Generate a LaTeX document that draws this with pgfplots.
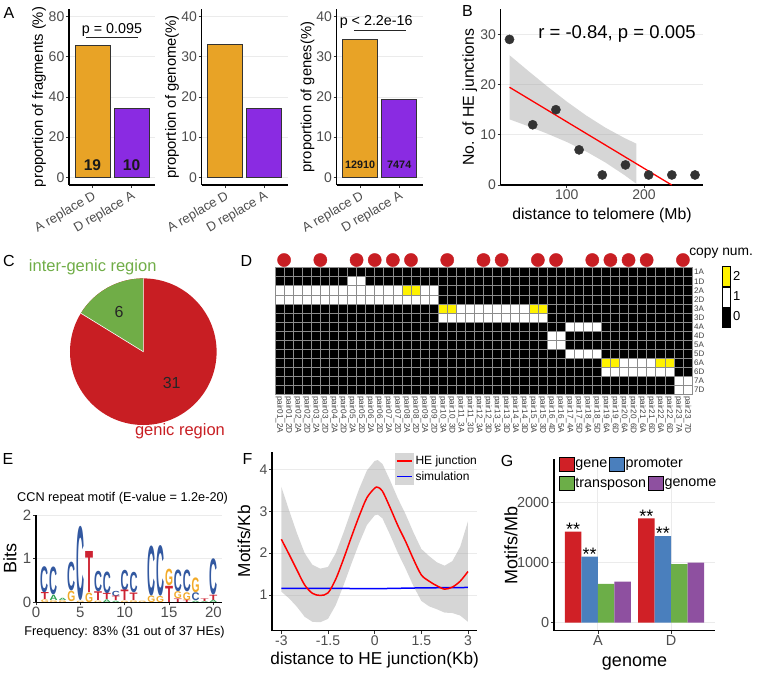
\documentclass[border=0pt]{standalone}
\usepackage{pgfplots}
\pgfplotsset{compat=1.18}
\usepackage{graphicx}
\usepackage{fontspec}
\setmainfont{Liberation Sans}
\newcommand{\fs}[1]{\fontsize{#1pt}{#1pt}\selectfont}

\definecolor{aorange}{RGB}{232,163,38}
\definecolor{apurple}{RGB}{138,43,226}
\definecolor{barline}{RGB}{51,51,51}
\definecolor{gridc}{RGB}{235,235,235}
\definecolor{tickc}{RGB}{77,77,77}
\definecolor{piered}{RGB}{200,30,35}
\definecolor{piegreen}{RGB}{112,173,71}
\definecolor{dotred}{RGB}{200,30,35}
\definecolor{bandc}{RGB}{153,153,153}
\definecolor{ptc}{RGB}{51,51,51}
\definecolor{logoA}{RGB}{40,160,75}
\definecolor{logoC}{RGB}{50,88,160}
\definecolor{logoG}{RGB}{242,170,40}
\definecolor{logoT}{RGB}{205,35,50}
\definecolor{gRed}{RGB}{208,32,38}
\definecolor{gBlue}{RGB}{74,127,189}
\definecolor{gGreen}{RGB}{108,174,72}
\definecolor{gPurple}{RGB}{142,80,160}

\pgfplotsset{
  gg/.style={
    scale only axis, anchor=south west,
    axis x line*=bottom, axis y line*=left,
    axis line style={-, line width=1.1pt, black},
    tick align=outside, tick pos=left,
    major tick length=3pt,
    tick style={line width=0.8pt, black!80},
    tick label style={font=\fs{14}, text=tickc, inner sep=1.5pt},
    /pgf/number format/assume math mode=true,
    /pgf/number format/1000 sep={},
    label style={font=\fs{14.8}},
    enlargelimits=false,
  },
  gy/.style={ymajorgrids, major grid style={gridc, line width=0.9pt}},
}

\begin{document}
\begin{tikzpicture}
\useasboundingbox (0pt,0pt) rectangle (757pt,-674pt);

% ---------------- Panel A1 ----------------
\begin{axis}[gg, gy, at={(69pt,-185pt)}, width=86pt, height=176pt,
  xmin=0.4, xmax=2.6, ymin=-3.84, ymax=83.8,
  xtick={1,2}, xticklabels={A replace D,D replace A},
  xticklabel style={rotate=30, anchor=north east, font=\fs{13}},
  ytick={0,20,40,60,80},
  ylabel={proportion of fragments (\%)},
  ylabel style={at={(axis description cs:-0.349,0.5)}, anchor=center}]
\addplot[ybar, bar width=0.9, bar shift=0pt, fill=aorange, draw=barline, line width=0.7pt] coordinates {(1,65.5)};
\addplot[ybar, bar width=0.9, bar shift=0pt, fill=apurple, draw=barline, line width=0.7pt] coordinates {(2,34.5)};
\draw[line width=0.9pt, black!85] (axis cs:0.84,69.6) -- (axis cs:2.16,69.6);
\node[anchor=base, font=\fs{14.3}] at (axis cs:1.5,71.7) {p = 0.095};
\node[anchor=base, font=\fs{15.5}\bfseries, text=black!90] at (axis cs:1,3.3) {19};
\node[anchor=base, font=\fs{15.5}\bfseries, text=black!90] at (axis cs:2,3.3) {10};
\end{axis}

% ---------------- Panel A2 ----------------
\begin{axis}[gg, gy, at={(201.7pt,-185pt)}, width=86pt, height=176pt,
  xmin=0.4, xmax=2.6, ymin=-1.92, ymax=41.9,
  xtick={1,2}, xticklabels={A replace D,D replace A},
  xticklabel style={rotate=30, anchor=north east, font=\fs{13}},
  ytick={0,10,20,30,40},
  ylabel={proportion of genome(\%)},
  ylabel style={at={(axis description cs:-0.345,0.5)}, anchor=center}]
\addplot[ybar, bar width=0.9, bar shift=0pt, fill=aorange, draw=barline, line width=0.7pt] coordinates {(1,33.0)};
\addplot[ybar, bar width=0.9, bar shift=0pt, fill=apurple, draw=barline, line width=0.7pt] coordinates {(2,17.1)};
\end{axis}

% ---------------- Panel A3 ----------------
\begin{axis}[gg, gy, at={(336.7pt,-185pt)}, width=86pt, height=176pt,
  xmin=0.4, xmax=2.6, ymin=-1.92, ymax=41.9,
  xtick={1,2}, xticklabels={A replace D,D replace A},
  xticklabel style={rotate=30, anchor=north east, font=\fs{13}},
  ytick={0,10,20,30,40},
  ylabel={proportion of genes(\%)},
  ylabel style={at={(axis description cs:-0.34,0.5)}, anchor=center}, clip=false]
\addplot[ybar, bar width=0.9, bar shift=0pt, fill=aorange, draw=barline, line width=0.7pt] coordinates {(1,34.4)};
\addplot[ybar, bar width=0.9, bar shift=0pt, fill=apurple, draw=barline, line width=0.7pt] coordinates {(2,19.4)};
\draw[line width=0.9pt, black!85] (axis cs:0.84,36.5) -- (axis cs:2.16,36.5);
\node[anchor=base, font=\fs{14.3}] at (axis cs:1.41,37.9) {p < 2.2e-16};
\node[anchor=base, font=\fs{10.8}\bfseries, text=black!90] at (axis cs:1,2.24) {12910};
\node[anchor=base, font=\fs{10.8}\bfseries, text=black!90] at (axis cs:2,2.24) {7474};
\end{axis}

% ---------------- Panel B ----------------
\begin{axis}[gg, gy, at={(500.7pt,-185pt)}, width=202.6pt, height=175.7pt,
  xmin=14.6, xmax=276.7, ymin=0, ymax=35,
  xtick={100,200}, ytick={0,10,20,30},
  xlabel={distance to telomere (Mb)}, ylabel={No. of HE junctions},
  label style={font=\fs{15.8}},
  xlabel style={at={(axis description cs:0.5,-0.171)}, anchor=center},
  ylabel style={at={(axis description cs:-0.152,0.5)}, anchor=center}]
\addplot[only marks, mark=*, mark size=4.6pt, color=ptc] coordinates {
  (26,29) (56,12) (86,15) (116,7) (146,2) (176,4) (206,2) (236,2) (266,2)};
\addplot[fill=bandc, fill opacity=0.4, draw=none] coordinates {
  (26,25.86) (50,22.76) (75,19.62) (100,16.63) (125,13.87) (150,11.43) (175,9.34) (190,8.24)
  (190,0.26) (175,1.94) (150,4.49) (125,6.69) (100,8.57) (75,10.22) (50,11.72) (26,13.08)} -- cycle;
\addplot[red, line width=1.3pt] coordinates {(26,19.47) (235.8,0)};
\node[anchor=base, font=\fs{18.5}] at (axis cs:165,29.2) {r = -0.84, p = 0.005};
\end{axis}

% ---------------- Panel C (pie) ----------------
\pgfmathsetmacro{\angG}{360*6/(6+31)}
\begin{axis}[at={(70pt,-425pt)}, anchor=south west, scale only axis, width=146.6pt, height=146.6pt,
  xmin=-1, xmax=1, ymin=-1, ymax=1, hide axis, clip=false]
\fill[piered] (axis cs:0,0) circle[radius=73.3pt];
\fill[piegreen] (axis cs:0,0) -- (axis cs:0,1) arc[start angle=90, end angle={90+\angG}, radius=73.3pt] -- cycle;
\draw[white, line width=0.6pt] (axis cs:0,1) -- (axis cs:0,0) -- ++({90+\angG}:73.3pt);
\node[font=\fs{16}, text=black!85] at (axis cs:-0.33,0.546) {6};
\node[font=\fs{16}, text=black!85] at (axis cs:0.387,-0.423) {31};
\node[font=\fs{16.5}, text=piegreen] at (axis cs:-0.69,1.156) {inter-genic region};
\node[font=\fs{16.5}, text=piered] at (axis cs:0.5,-1.09) {genic region};
\end{axis}

% ---------------- Panel D (heatmap) ----------------
\begin{axis}[scale only axis, anchor=south west, at={(275pt,-394.3pt)}, width=417pt, height=126.6pt,
  xmin=-0.5, xmax=45.5, ymin=-0.5, ymax=13.5, y dir=reverse,
  axis background/.style={fill=black},
  xtick={0,...,45},
  xticklabels={pair01\_2A,pair01\_2D,pair02\_2A,pair02\_2D,pair03\_2A,pair03\_2D,pair04\_2A,pair04\_2D,pair05\_2A,pair05\_2D,pair06\_2A,pair06\_2D,pair07\_2A,pair07\_2D,pair08\_2A,pair08\_2D,pair09\_2A,pair09\_2D,pair10\_3A,pair10\_3D,pair11\_3A,pair11\_3D,pair12\_3A,pair12\_3D,pair13\_3A,pair13\_3D,pair14\_3A,pair14\_3D,pair15\_3A,pair15\_3D,pair16\_4D,pair16\_5A,pair17\_4A,pair17\_5D,pair18\_4A,pair18\_5D,pair19\_6A,pair19\_6D,pair20\_6A,pair20\_6D,pair21\_6A,pair21\_6D,pair22\_6A,pair22\_6D,pair23\_7A,pair23\_7D},
  xticklabel style={rotate=-90, anchor=west, font=\fs{8.2}, text=black!75, inner sep=1.5pt},
  ytick={0,...,13}, yticklabels={1A,1D,2A,2D,3A,3D,4A,4D,5A,5D,6A,6D,7A,7D},
  yticklabel pos=right, yticklabel style={font=\fs{8}, text=black!75, anchor=west, inner sep=2pt},
  tick style={draw=none}, major tick length=0pt,
  minor xtick={-0.5,0.5,...,45.5}, minor ytick={-0.5,0.5,...,13.5},
  xminorgrids, yminorgrids, minor grid style={black!45, line width=0.6pt},
  axis on top, axis line style={black!45, line width=0.6pt},
  clip=false,
  legend image code/.code={\fill[#1] (0pt,-10pt) rectangle (8.3pt,10pt);},
  legend style={at={(axis description cs:1.0712,1.0134)}, anchor=north west, draw=none, fill=none,
    inner sep=0pt, row sep=0pt, font=\fs{13}, nodes={inner sep=2.5pt}},
  legend cell align=left]
\addlegendimage{fill=yellow}\addlegendentry{2}
\addlegendimage{fill=white}\addlegendentry{1}
\addlegendimage{fill=black}\addlegendentry{0}
% copy number 1 (white)
\addplot[fill=white, draw=none, forget plot] coordinates {(7.5,0.5) (9.5,0.5) (9.5,1.5) (7.5,1.5)} -- cycle;
\addplot[fill=white, draw=none, forget plot] coordinates {(-0.5,1.5) (17.5,1.5) (17.5,3.5) (-0.5,3.5)} -- cycle;
\addplot[fill=white, draw=none, forget plot] coordinates {(17.5,3.5) (29.5,3.5) (29.5,5.5) (17.5,5.5)} -- cycle;
\addplot[fill=white, draw=none, forget plot] coordinates {(31.5,5.5) (35.5,5.5) (35.5,6.5) (31.5,6.5)} -- cycle;
\addplot[fill=white, draw=none, forget plot] coordinates {(29.5,6.5) (31.5,6.5) (31.5,8.5) (29.5,8.5)} -- cycle;
\addplot[fill=white, draw=none, forget plot] coordinates {(31.5,8.5) (35.5,8.5) (35.5,9.5) (31.5,9.5)} -- cycle;
\addplot[fill=white, draw=none, forget plot] coordinates {(35.5,9.5) (43.5,9.5) (43.5,11.5) (35.5,11.5)} -- cycle;
\addplot[fill=white, draw=none, forget plot] coordinates {(43.5,11.5) (45.5,11.5) (45.5,13.5) (43.5,13.5)} -- cycle;
% copy number 2 (yellow)
\addplot[fill=yellow, draw=none, forget plot] coordinates {(13.5,1.5) (15.5,1.5) (15.5,2.5) (13.5,2.5)} -- cycle;
\addplot[fill=yellow, draw=none, forget plot] coordinates {(17.5,3.5) (19.5,3.5) (19.5,4.5) (17.5,4.5)} -- cycle;
\addplot[fill=yellow, draw=none, forget plot] coordinates {(27.5,3.5) (29.5,3.5) (29.5,4.5) (27.5,4.5)} -- cycle;
\addplot[fill=yellow, draw=none, forget plot] coordinates {(35.5,9.5) (37.5,9.5) (37.5,10.5) (35.5,10.5)} -- cycle;
\addplot[fill=yellow, draw=none, forget plot] coordinates {(41.5,9.5) (43.5,9.5) (43.5,10.5) (41.5,10.5)} -- cycle;
% red dots
\addplot[only marks, mark=*, mark size=6.6pt, color=dotred, forget plot] coordinates {
  (0.5,-1.35) (4.5,-1.35) (8.5,-1.35) (10.5,-1.35) (12.5,-1.35) (14.5,-1.35) (18.5,-1.35) (22.5,-1.35)
  (24.5,-1.35) (28.5,-1.35) (30.5,-1.35) (34.5,-1.35) (36.5,-1.35) (38.5,-1.35) (40.5,-1.35) (44.5,-1.35)};
\node[anchor=west, font=\fs{13.8}, inner sep=0pt] at (axis description cs:0.993,1.1137) {copy num.};
\end{axis}

% ---------------- Panel E (motif logo) ----------------
\begin{axis}[gg, gy, at={(36pt,-602.3pt)}, width=185.7pt, height=87.3pt,
  xmin=0, xmax=20.93, ymin=0, ymax=2,
  xtick={0,5,10,15,20}, ytick={0,1,2},
  tick label style={font=\fs{15}},
  ylabel={Bits}, ylabel style={font=\fs{18}, at={(axis description cs:-0.14,0.5)}, anchor=center},
  xlabel={Frequency: 83\% (31 out of 37 HEs)},
  xlabel style={font=\fs{12.7}, at={(axis description cs:0.477,-0.346)}, anchor=center},
  clip=false]
\addplot[draw=none, mark=none, forget plot,
  visualization depends on={43.65*\thisrow{h} \as \hval},
  nodes near coords={\resizebox*{8pt}{\hval pt}{\bfseries C}},
  every node near coord/.append style={anchor=south, inner sep=0pt, outer sep=0pt, text=logoC}]
  table[x=x, y=b] {
x b h
1 0.22 0.60
2 0.16 0.64
4 0.26 0.66
5 0.03 1.70
7 0.23 0.47
8 0.20 0.50
9 0.13 0.12
10 0.27 0.47
11 0.21 0.47
13 0.15 1.15
14 0.14 1.16
16 0.24 0.50
17 0.23 0.50
18 0.03 0.18
20 0.17 0.83
};
\addplot[draw=none, mark=none, forget plot,
  visualization depends on={43.65*\thisrow{h} \as \hval},
  nodes near coords={\resizebox*{8pt}{\hval pt}{\bfseries G}},
  every node near coord/.append style={anchor=south, inner sep=0pt, outer sep=0pt, text=logoG}]
  table[x=x, y=b] {
x b h
1 0 0.06
2 0 0.04
3 0 0.04
4 0.02 0.24
5 0 0.03
6 0 0.22
7 0 0.03
10 0 0.03
11 0 0.04
12 0 0.03
13 0 0.15
14 0 0.14
15 0.37 0.38
16 0.08 0.16
17 0.05 0.18
18 0.21 0.34
};
\addplot[draw=none, mark=none, forget plot,
  visualization depends on={43.65*\thisrow{h} \as \hval},
  nodes near coords={\resizebox*{8pt}{\hval pt}{\bfseries T}},
  every node near coord/.append style={anchor=south, inner sep=0pt, outer sep=0pt, text=logoT}]
  table[x=x, y=b] {
x b h
1 0.06 0.16
6 0.22 0.94
7 0.03 0.20
8 0.06 0.14
9 0.03 0.10
10 0.03 0.24
11 0.04 0.17
15 0 0.37
16 0 0.08
17 0 0.05
19 0.02 0.06
20 0.05 0.12
};
\addplot[draw=none, mark=none, forget plot,
  visualization depends on={43.65*\thisrow{h} \as \hval},
  nodes near coords={\resizebox*{8pt}{\hval pt}{\bfseries A}},
  every node near coord/.append style={anchor=south, inner sep=0pt, outer sep=0pt, text=logoA}]
  table[x=x, y=b] {
x b h
2 0.04 0.12
3 0.04 0.05
8 0 0.06
9 0 0.03
18 0 0.03
19 0 0.02
20 0 0.05
};
\node[font=\fs{12.7}] at (axis description cs:0.466,1.187) {CCN repeat motif (E-value = 1.2e-20)};
\end{axis}

% ---------------- Panel F ----------------
\begin{axis}[gg, gy, at={(272pt,-630.7pt)}, width=205.3pt, height=179pt,
  xmin=-3.3, xmax=3.3, ymin=0.148, ymax=4.42,
  xtick={-3,-1.5,0,1.5,3}, xticklabels={-3,-1.5,0,1.5,3},
  ytick={1,2,3,4},
  xlabel={distance to HE junction(Kb)}, ylabel={Motifs/Kb},
  label style={font=\fs{17.2}},
  xlabel style={at={(axis description cs:0.5,-0.164)}, anchor=center},
  ylabel style={at={(axis description cs:-0.136,0.5)}, anchor=center},
  legend style={at={(axis description cs:0.599,0.994)}, anchor=north west, draw=none, fill=none,
    inner sep=0pt, row sep=0pt, font=\fs{12}, nodes={inner sep=1.7pt}},
  legend cell align=left]
\addlegendimage{legend image code/.code={\fill[black!16] (0pt,-7.65pt) rectangle (18.3pt,7.65pt); \draw[red, line width=1.6pt] (1.5pt,0pt) -- (16.8pt,0pt);}}
\addlegendentry{HE junction}
\addlegendimage{legend image code/.code={\fill[black!16] (0pt,-7.65pt) rectangle (18.3pt,7.65pt); \draw[blue, line width=1.6pt] (1.5pt,0pt) -- (16.8pt,0pt);}}
\addlegendentry{simulation}
\addplot[fill=bandc, fill opacity=0.4, draw=none, forget plot] coordinates {
  (-3,3.58) (-2.75,3.02) (-2.5,2.48) (-2.25,2.00) (-2,1.72) (-1.75,1.63) (-1.5,1.67) (-1.25,2.00)
  (-1,2.49) (-0.75,3.02) (-0.5,3.53) (-0.25,3.97) (0,4.20) (0.1,4.22) (0.25,4.13) (0.5,3.73)
  (0.75,3.30) (1,2.92) (1.25,2.49) (1.5,2.10) (1.75,1.93) (2,1.78) (2.25,1.70) (2.5,1.81)
  (2.75,2.15) (3,2.76)
  (3,0.36) (2.75,0.51) (2.5,0.57) (2.25,0.58) (2,0.66) (1.75,0.73) (1.5,0.86) (1.25,1.21)
  (1,1.62) (0.75,2.00) (0.5,2.43) (0.25,2.83) (0.1,2.92) (0,2.90) (-0.25,2.67) (-0.5,2.23)
  (-0.75,1.74) (-1,1.23) (-1.25,0.76) (-1.5,0.43) (-1.75,0.35) (-2,0.36) (-2.25,0.48) (-2.5,0.72)
  (-2.75,0.92) (-3,1.08)} -- cycle;
\addplot[blue, line width=1.5pt, forget plot] coordinates {(-3,1.16) (-1.5,1.16) (0,1.15) (1.5,1.17) (3,1.18)};
\addplot[red, line width=1.5pt, smooth, forget plot] coordinates {
  (-3,2.33) (-2.75,1.97) (-2.5,1.60) (-2.25,1.24) (-2,1.04) (-1.75,0.99) (-1.5,1.05) (-1.25,1.38)
  (-1,1.86) (-0.75,2.38) (-0.5,2.88) (-0.25,3.32) (0,3.55) (0.1,3.57) (0.25,3.48) (0.5,3.08)
  (0.75,2.65) (1,2.27) (1.25,1.85) (1.5,1.48) (1.75,1.33) (2,1.22) (2.25,1.14) (2.5,1.19)
  (2.75,1.33) (3,1.56)};
\end{axis}

% ---------------- Panel G ----------------
\begin{axis}[gg, gy, xmajorgrids, at={(554pt,-630.7pt)}, width=161pt, height=171.4pt,
  xmin=0.4, xmax=2.6, ymin=-133, ymax=2714,
  xtick={1,2}, xticklabels={A,D}, ytick={0,1000,2000},
  tick label style={font=\fs{14.5}},
  xlabel={genome}, ylabel={Motifs/Mb}, label style={font=\fs{18}},
  xlabel style={at={(axis description cs:0.5,-0.19)}, anchor=center},
  ylabel style={at={(axis description cs:-0.267,0.5)}, anchor=center},
  legend image code/.code={\fill[#1] (0pt,-7pt) rectangle (15pt,7pt);},
  legend style={at={(axis description cs:0.0267,1.0152)}, anchor=north west, draw=none, fill=none,
    inner sep=0pt, font=\fs{14.3}, nodes={inner sep=1.5pt}},
  legend columns=2, legend cell align=left, clip=false]
\addlegendimage{fill=gRed}\addlegendentry{gene}
\addlegendimage{fill=gBlue}\addlegendentry{promoter}
\addplot[ybar, bar width=0.225, bar shift=0pt, fill=gRed, draw=none, forget plot,
  nodes near coords={**}, every node near coord/.append style={font=\fs{18}, anchor=south, inner sep=0pt, yshift=-4pt, text=black}]
  coordinates {(0.6625,1512) (1.6625,1734)};
\addplot[ybar, bar width=0.225, bar shift=0pt, fill=gBlue, draw=none, forget plot,
  nodes near coords={**}, every node near coord/.append style={font=\fs{18}, anchor=south, inner sep=0pt, yshift=-4pt, text=black}]
  coordinates {(0.8875,1096) (1.8875,1440)};
\addplot[ybar, bar width=0.225, bar shift=0pt, fill=gGreen, draw=none, forget plot]
  coordinates {(1.1125,643) (2.1125,975)};
\addplot[ybar, bar width=0.225, bar shift=0pt, fill=gPurple, draw=none, forget plot]
  coordinates {(1.3375,681) (2.3375,997)};
\end{axis}
\begin{axis}[at={(554pt,-630.7pt)}, anchor=south west, scale only axis, width=161pt, height=171.4pt,
  hide axis, xmin=0, xmax=1, ymin=0, ymax=1,
  legend image code/.code={\fill[#1] (0pt,-7pt) rectangle (15pt,7pt);},
  legend style={at={(axis description cs:0.0267,0.904)}, anchor=north west, draw=none, fill=none,
    inner sep=0pt, font=\fs{14.3}, nodes={inner sep=1.5pt}},
  legend columns=2, legend cell align=left]
\addlegendimage{fill=gGreen}\addlegendentry{transposon}
\addlegendimage{fill=gPurple}\addlegendentry{genome}
\end{axis}

% ---------------- Panel letters ----------------
\node[font=\fs{16}] at (9pt,-12.5pt) {A};
\node[font=\fs{16}] at (467.5pt,-11pt) {B};
\node[font=\fs{16}] at (9pt,-261pt) {C};
\node[font=\fs{16}] at (246.5pt,-261pt) {D};
\node[font=\fs{16}] at (8pt,-459pt) {E};
\node[font=\fs{16}] at (247.5pt,-459pt) {F};
\node[font=\fs{16}] at (507pt,-461pt) {G};
\end{tikzpicture}
\end{document}
